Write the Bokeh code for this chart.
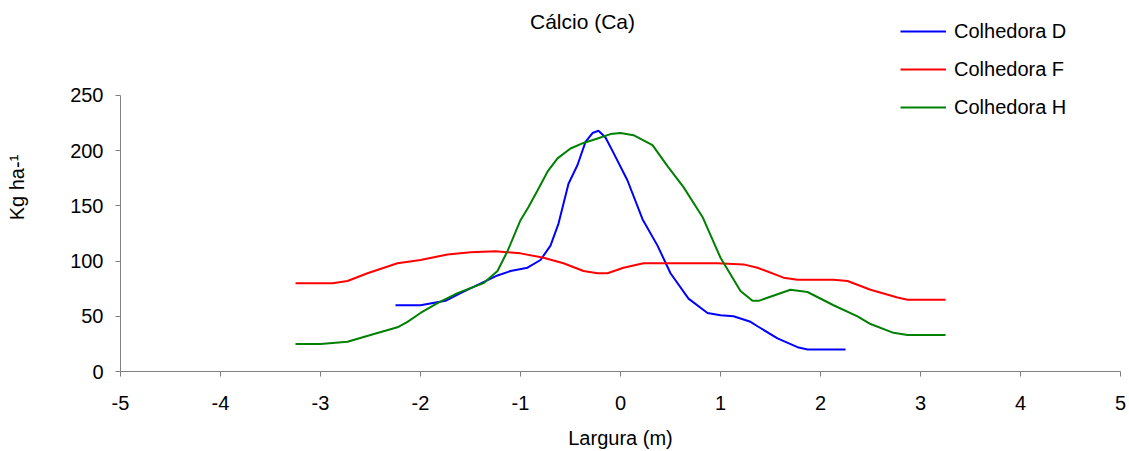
from bokeh.plotting import figure
from bokeh.models import (Range1d, FixedTicker, Legend, LegendItem, Label)
from bokeh.embed import file_html
from bokeh.resources import INLINE

# ---- data ----
x_d = [-2.25, -2.0, -1.75, -1.6, -1.37, -1.23, -1.1, -0.93, -0.8, -0.7, -0.62, -0.52,
       -0.43, -0.35, -0.28, -0.22, -0.15, -0.07, 0.07, 0.22, 0.37, 0.5, 0.68, 0.87,
       1.0, 1.13, 1.3, 1.37, 1.57, 1.77, 1.87, 2.25]
y_d = [60, 60, 64, 71, 81, 87, 91, 94, 101, 114, 134, 170,
       187, 208, 216, 218, 212, 198, 173, 138, 114, 89, 66, 53,
       51, 50, 45, 41, 30, 22, 20, 20]

x_f = [-3.25, -2.88, -2.73, -2.53, -2.23, -2.0, -1.73, -1.5, -1.25, -1.0, -0.77, -0.57,
       -0.37, -0.23, -0.13, 0.03, 0.23, 0.63, 0.97, 1.23, 1.37, 1.63, 1.77, 2.13,
       2.27, 2.5, 2.77, 2.87, 3.25]
y_f = [80, 80, 82, 89, 98, 101, 106, 108, 109, 107, 103, 98,
       91, 89, 89, 94, 98, 98, 98, 97, 94, 85, 83, 83,
       82, 74, 67, 65, 65]

x_h = [-3.25, -3.0, -2.73, -2.5, -2.23, -2.13, -2.0, -1.83, -1.63, -1.37, -1.23, -1.13,
       -1.0, -0.92, -0.83, -0.73, -0.63, -0.5, -0.37, -0.23, -0.1, 0.0, 0.13, 0.32,
       0.47, 0.63, 0.82, 1.0, 1.2, 1.32, 1.38, 1.7, 1.87, 2.13, 2.37, 2.5,
       2.73, 2.87, 3.25]
y_h = [25, 25, 27, 33, 40, 45, 53, 62, 71, 80, 91, 109,
       137, 149, 164, 181, 193, 202, 207, 211, 215, 216, 214, 205,
       186, 167, 140, 103, 73, 64, 64, 74, 72, 60, 50, 43,
       35, 33, 33]

series_names = ["Colhedora D", "Colhedora F", "Colhedora H"]
series_colors = ["#0000FF", "#FF0000", "#008000"]
x_ticks = [-5, -4, -3, -2, -1, 0, 1, 2, 3, 4, 5]
y_ticks = [0, 50, 100, 150, 200, 250]
title_text = "Cálcio (Ca)"
x_label = "Largura (m)"
y_label = "Kg ha-¹"

FONT = "Liberation Sans"
AXIS_COLOR = "#808080"

# y range extends above 250 so that title and legend sit inside the frame;
# the axis itself is bounded to 0..250
p = figure(width=1129, height=451, output_backend="svg", toolbar_location=None,
           x_range=Range1d(-5, 5), y_range=Range1d(0, 333.3),
           min_border_left=120, min_border_right=9, min_border_top=3,
           min_border_bottom=80)
p.outline_line_color = None
p.xgrid.visible = False
p.ygrid.visible = False
p.background_fill_color = "white"
p.border_fill_color = "white"

renderers = []
for xs, ys, c in zip([x_d, x_f, x_h], [y_d, y_f, y_h], series_colors):
    r = p.line(xs, ys, line_color=c, line_width=2)
    renderers.append(r)

# axes
p.xaxis.ticker = FixedTicker(ticks=x_ticks)
p.yaxis.ticker = FixedTicker(ticks=y_ticks)
p.xaxis.major_label_overrides = {t: str(t) for t in x_ticks}
p.yaxis.major_label_overrides = {t: str(t) for t in y_ticks}
p.yaxis.bounds = (0, 250)
for ax in (p.xaxis[0], p.yaxis[0]):
    ax.axis_line_color = AXIS_COLOR
    ax.major_tick_line_color = AXIS_COLOR
    ax.minor_tick_line_color = None
    ax.major_tick_in = 0
    ax.major_tick_out = 5
    ax.major_label_text_font = FONT
    ax.major_label_text_font_size = "20px"
    ax.major_label_text_color = "black"
    ax.axis_label_text_font = FONT
    ax.axis_label_text_font_size = "20px"
    ax.axis_label_text_font_style = "normal"
    ax.axis_label_text_color = "black"
p.xaxis.major_label_standoff = 19
p.xaxis.axis_label = x_label
p.xaxis.axis_label_standoff = 14
p.yaxis.major_label_standoff = 12
p.yaxis.axis_label = y_label
p.yaxis.axis_label_standoff = 39

# title
p.add_layout(Label(x=462, y=350, x_units="screen", y_units="screen", text=title_text,
                   text_align="center", text_baseline="middle",
                   text_font=FONT, text_font_size="21px", text_color="black"))

legend = Legend(items=[LegendItem(label=n, renderers=[r]) for n, r in zip(series_names, renderers)],
                location=(780, 252), border_line_color=None, background_fill_alpha=0,
                padding=0, margin=0, spacing=14, glyph_width=46, glyph_height=24,
                label_height=24, label_standoff=8, label_text_font=FONT,
                label_text_font_size="20px", label_text_color="black")
p.add_layout(legend, "center")

open("out.html", "w").write(file_html(p, INLINE))
